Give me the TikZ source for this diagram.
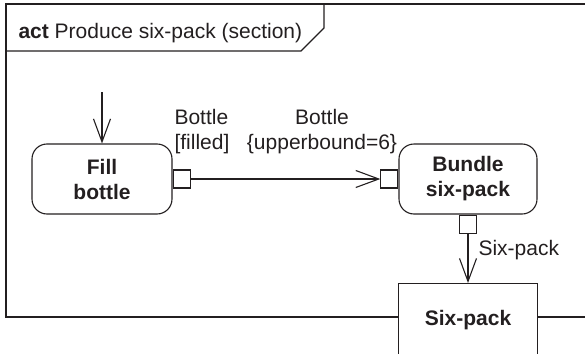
\documentclass[tikz,border=0pt]{standalone}
\usepackage{fontspec}
\setmainfont{Liberation Sans}
\usetikzlibrary{arrows.meta}
\definecolor{ink}{RGB}{35,31,32}
\begin{document}
\begin{tikzpicture}[x=1pt,y=-1pt, line width=1.1pt, color=ink,
  txt/.style={font=\fontsize{21}{25}\selectfont, inner sep=0pt},
  action/.style={draw, rounded corners=15pt, minimum width=140pt, minimum height=70pt,
    align=center, inner sep=0pt, font=\fontsize{21}{25}\selectfont\bfseries},
  pinbox/.style={draw, fill=white, minimum width=17pt, minimum height=18pt, inner sep=0pt},
  flow/.style={-{Straight Barb[length=23pt,width=17pt]}}]
\useasboundingbox (0,0) rectangle (585,353);
% frame
\draw (585,4) -- (6,4) -- (6,317) -- (398,317);
\draw (537,317) -- (585,317);
\draw (6,51) -- (301,51) -- (324,28) -- (324,4);
\node[txt, anchor=base west] (title) at (18,38) {\textbf{act} Produce six-pack (section)};
% actions
\node[action] (fill) at (102,179) {Fill\\bottle};
\node[action, minimum width=138pt] (bundle) at (468,179) {\raisebox{0pt}[15pt][0pt]{Bundle}\\six-pack};
\node[pinbox, anchor=west] (p1) at (fill.east) {};
\node[pinbox, anchor=east] (p2) at (bundle.west) {};
\node[pinbox, anchor=north] (p3) at (bundle.south) {};
\node[draw, minimum width=139pt, minimum height=80pt, anchor=north, inner sep=0pt] (six) at (468,283) {};
\node[txt, anchor=base, font=\fontsize{21}{25}\selectfont\bfseries] (sixtext) at (468,325.5) {Six-pack};
% labels
\node[txt, anchor=base west] (l1a) at (174,124.5) {Bottle};
\node[txt, anchor=base west] (l1b) at (174,149.5) {[filled]};
\node[txt, anchor=base] (l2a) at (322,124.5) {Bottle};
\node[txt, anchor=base] (l2b) at (322,149.5) {\{upperbound=6\}};
\node[txt, anchor=base west] (l3) at (478,255.5) {Six-pack};
% flows
\coordinate (start) at (102,92);
\draw[flow] (start) -- (fill.north);
\draw[flow] (p1.east) -- (p2.west);
\draw[flow] (p3.south) -- (six.north);
\end{tikzpicture}
\end{document}
